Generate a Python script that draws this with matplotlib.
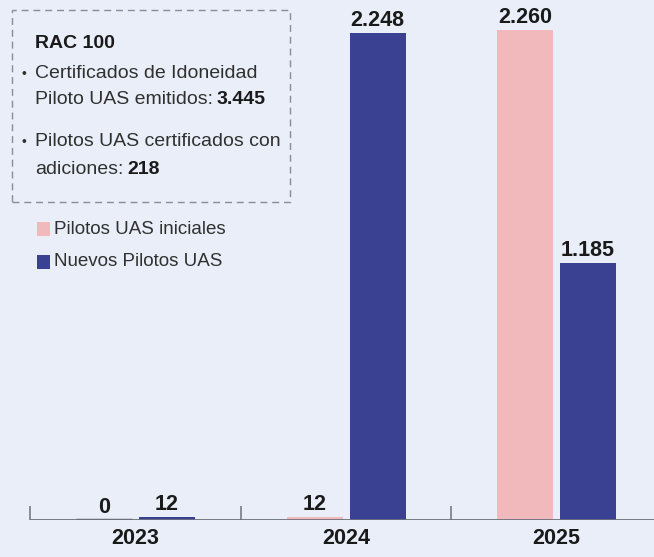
import matplotlib
matplotlib.use("Agg")
import matplotlib.pyplot as plt
from matplotlib.patches import Rectangle
import numpy as np

years = ["2023", "2024", "2025"]
iniciales = [0, 12, 2260]
nuevos = [12, 2248, 1185]
labels_ini = ["0", "12", "2.260"]
labels_nue = ["12", "2.248", "1.185"]
legend_labels = ["Pilotos UAS iniciales", "Nuevos Pilotos UAS"]

BG = "#e9eef8"
PINK = "#f2b9bc"
BLUE = "#3a4192"
DARK = "#1a1a1a"
TXT = "#303030"
FONT = ["Liberation Sans", "DejaVu Sans"]

W, H = 654, 557
fig = plt.figure(figsize=(W / 100, H / 100), dpi=100)
fig.patch.set_facecolor(BG)

base_px = 520  # baseline y from top
ax = fig.add_axes([0, (H - base_px) / H, 1, base_px / H])
ax.set_facecolor(BG)
for s in ax.spines.values():
    s.set_visible(False)
ax.set_xticks([])
ax.set_yticks([])

gs = 210.5
c0 = 135.5
ax.set_xlim(-c0 / gs, (W - c0) / gs)
pxu = 490 / 2260.0
ax.set_ylim(0, base_px / pxu)

x = np.arange(len(years))
bw = 56 / gs
off = 31.5 / gs
ax.bar(x - off, iniciales, bw, color=PINK, linewidth=0)
ax.bar(x + off, nuevos, bw, color=BLUE, linewidth=0)
# zero bar drawn as a thin line
for i, v in enumerate(iniciales):
    if v == 0:
        ax.plot([x[i] - off - bw / 2, x[i] - off + bw / 2], [0, 0], color="#5a5e70",
                lw=2.5, solid_capstyle="butt", zorder=3)

# baseline and tick separators
ax.axhline(0, xmin=31 / W, xmax=1, color="#6e717c", lw=1.3, zorder=4)
ax.vlines(np.arange(len(years)) - 0.5, 0, 14 / pxu, color="#6e717c", lw=1.1)

# value labels
for i in range(len(years)):
    for val, lab, xo in ((iniciales[i], labels_ini[i], -off), (nuevos[i], labels_nue[i], off)):
        ax.annotate(lab, (x[i] + xo, val), xytext=(0, 1.5), textcoords="offset points",
                    ha="center", va="bottom", fontsize=15.5, fontweight="bold",
                    family=FONT, color=DARK, annotation_clip=False)
    ax.annotate(years[i], (x[i], 0), xytext=(0, -6), textcoords="offset points",
                ha="center", va="top", fontsize=15.5, fontweight="bold",
                family=FONT, color=DARK, annotation_clip=False)


def fx(px):
    return px / W


def fy(py):
    return 1 - py / H


box = Rectangle((fx(12), fy(202)), fx(290) - fx(12), fy(10) - fy(202),
                transform=fig.transFigure, fill=False, ec="#8a8d96", lw=1.0,
                ls=(0, (5, 3.5)))
fig.patches.append(box)

TS = 14
fig.text(fx(35), fy(43), "RAC 100", ha="left", va="center", fontsize=TS,
         fontweight="bold", family=FONT, color=DARK)
fig.text(fx(21), fy(74), "•", ha="left", va="center", fontsize=10, family=FONT, color=TXT)
fig.text(fx(21), fy(142), "•", ha="left", va="center", fontsize=10, family=FONT, color=TXT)
fig.text(fx(35), fy(73), "Certificados de Idoneidad", ha="left", va="center",
         fontsize=TS, family=FONT, color=TXT)

renderer = fig.canvas.get_renderer()


def two_part(xp, yp, normal, bold):
    t = fig.text(fx(xp), fy(yp), normal, ha="left", va="center", fontsize=TS,
                 family=FONT, color=TXT)
    bb = t.get_window_extent(renderer=renderer)
    fig.text(bb.x1 / W + fx(4), fy(yp), bold, ha="left", va="center", fontsize=TS,
             fontweight="bold", family=FONT, color=DARK)


two_part(35, 100, "Piloto UAS emitidos:", "3.445")
fig.text(fx(35), fy(141), "Pilotos UAS certificados con", ha="left", va="center",
         fontsize=TS, family=FONT, color=TXT)
two_part(35, 170, "adiciones:", "218")

# legend
for j, (lab, col) in enumerate(zip(legend_labels, [PINK, BLUE])):
    yc = 229 + j * 33
    fig.patches.append(Rectangle((fx(37), fy(yc + 7)), fx(13), 14 / H,
                                 transform=fig.transFigure, color=col, lw=0))
    fig.text(fx(54), fy(yc), lab, ha="left", va="center", fontsize=13.5,
             family=FONT, color=TXT)

fig.savefig("out.png", dpi=100, facecolor=BG)
